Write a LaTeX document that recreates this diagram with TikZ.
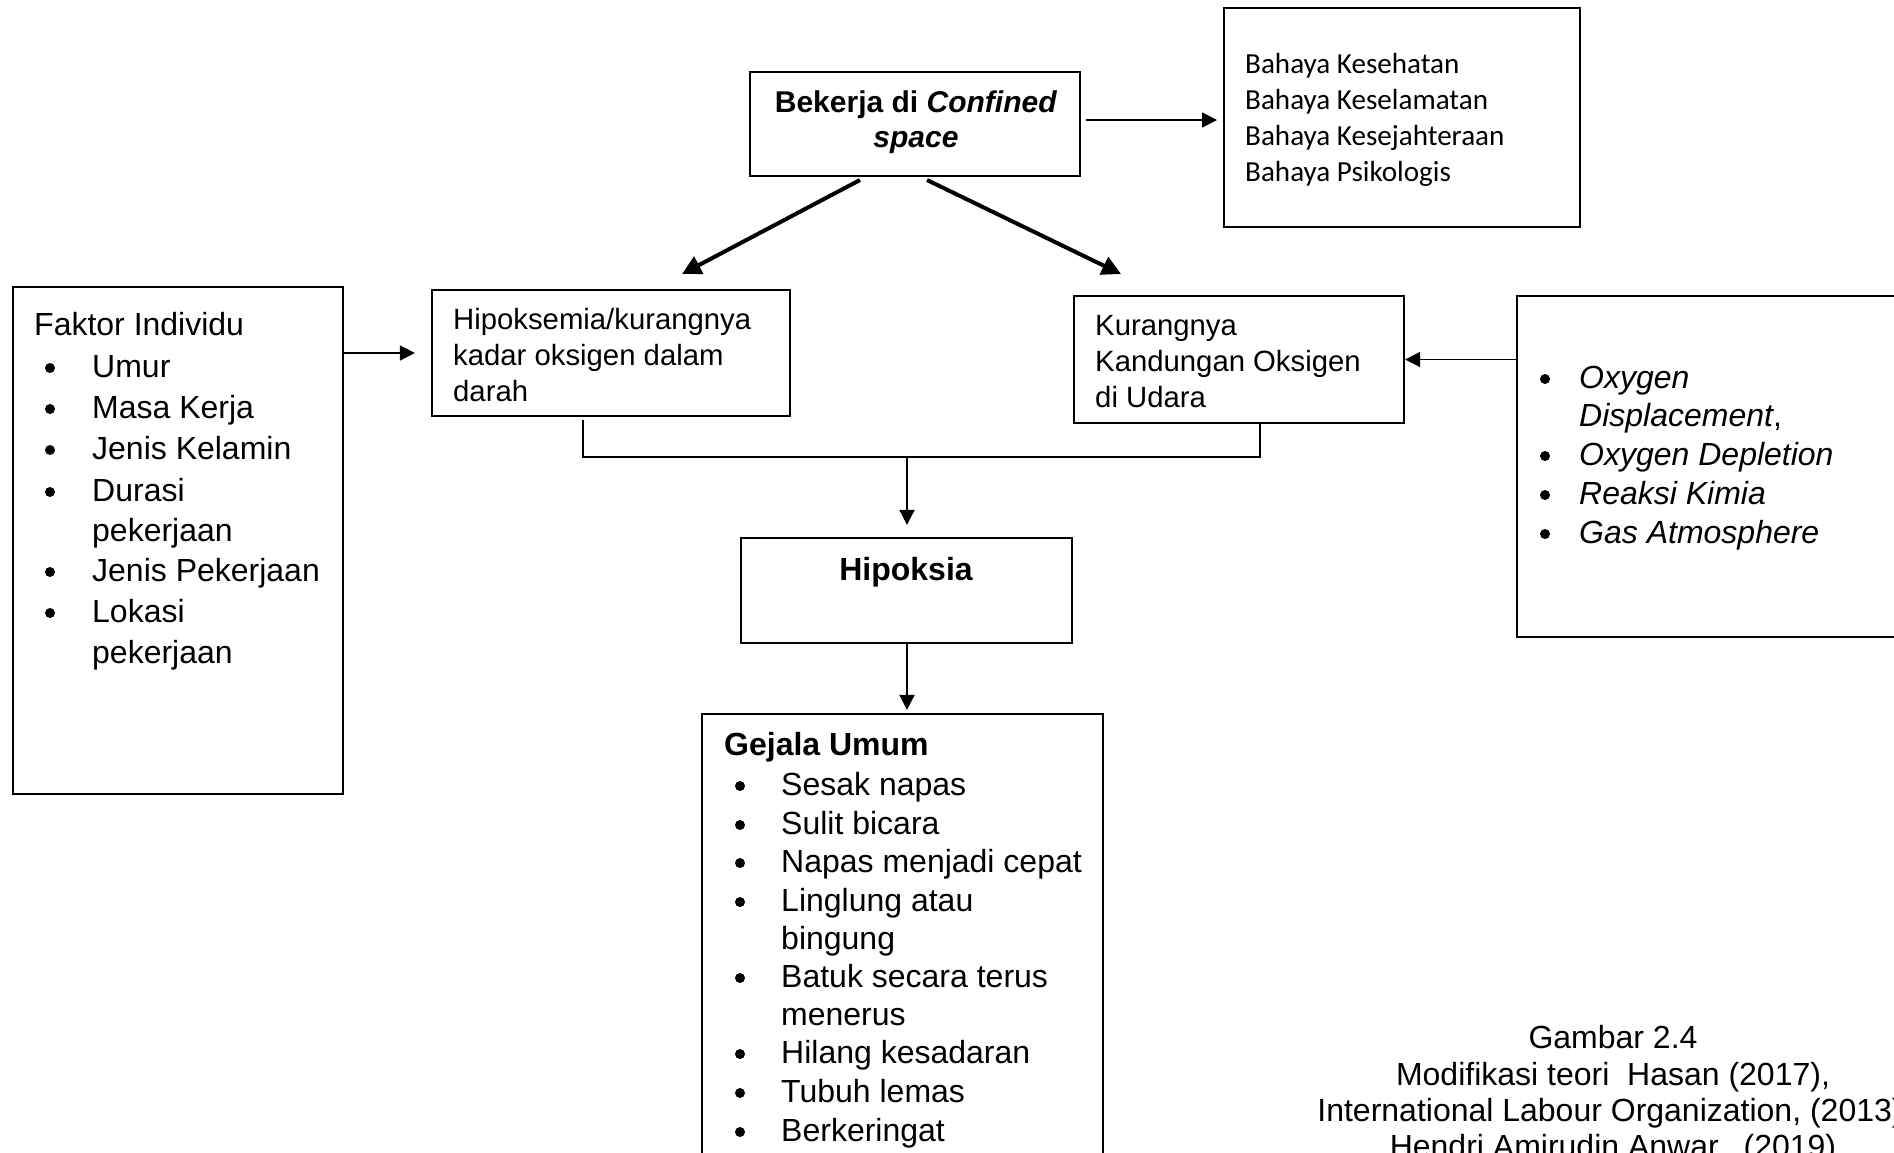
\documentclass[tikz,border=0pt]{standalone}
\usepackage{fontspec}
\setmainfont{Liberation Sans}
\newfontfamily\carlito{Carlito}
\usetikzlibrary{arrows.meta}
\tikzset{
  box/.style={draw, line width=2.2pt, inner sep=0pt, fill=none},
  txt/.style={anchor=base west, inner sep=0pt},
  ctxt/.style={anchor=base, inner sep=0pt},
  thin/.style={line width=1.6pt},
  arr/.style={line width=1.6pt, -{Triangle[length=15pt,width=15pt]}},
  bigarr/.style={line width=4pt, -{Triangle[length=19pt,width=19pt]}},
  big/.style={font=\fontsize{32}{38}\selectfont},
  mid/.style={font=\fontsize{29.3}{36}\selectfont},
  blt/.style={fill=black},
}
\begin{document}
\begin{tikzpicture}[x=1pt,y=-1pt]
\useasboundingbox (0,0) rectangle (1894,1152);
\fill[white] (0,0) rectangle (1894,1152);
\clip (0,0) rectangle (1894,1152);

% boxes
\node[box, minimum width=330pt, minimum height=104pt] (bek) at (915,124) {};
\node[box, minimum width=356pt, minimum height=219pt] (bah) at (1402,117.5) {};
\node[box, minimum width=358pt, minimum height=126pt] (hpx) at (611,353) {};
\node[box, minimum width=330pt, minimum height=127pt] (kur) at (1239,359.5) {};
\node[box, minimum width=330pt, minimum height=507pt] (fak) at (178,540.5) {};
\node[box, minimum width=393pt, minimum height=341pt] (oxy) at (1713.5,466.5) {};
\node[box, minimum width=331pt, minimum height=105pt] (hip) at (906.5,590.5) {};
\node[box, minimum width=401pt, minimum height=456pt] (gej) at (902.5,942) {};

% Bekerja text
\node[ctxt, font=\fontsize{30}{35}\selectfont\bfseries] (bek1) at (916,112) {Bekerja di \textit{Confined}};
\node[ctxt, font=\fontsize{30}{35}\selectfont\bfseries\itshape] (bek2) at (916,147) {space};

% Bahaya text
\begin{scope}[font=\carlito\fontsize{29.1}{36}\selectfont]
\node[txt] (bh1) at (1245,73) {Bahaya Kesehatan};
\node[txt] (bh2) at (1245,109) {Bahaya Keselamatan};
\node[txt] (bh3) at (1245,145) {Bahaya Kesejahteraan};
\node[txt] (bh4) at (1245,181) {Bahaya Psikologis};
\end{scope}

% Hipoksemia and Kurangnya text
\node[txt, mid] (hp1) at (453,329) {Hipoksemia/kurangnya};
\node[txt, mid] (hp2) at (453,365) {kadar oksigen dalam};
\node[txt, mid] (hp3) at (453,401) {darah};
\node[txt, mid] (ku1) at (1095,335) {Kurangnya};
\node[txt, mid] (ku2) at (1095,371) {Kandungan Oksigen};
\node[txt, mid] (ku3) at (1095,407) {di Udara};

% Faktor Individu
\node[txt, big] (fk0) at (34,335) {Faktor Individu};
\node[txt, big] (fk1) at (92,377) {Umur};
\node[txt, big] (fk2) at (92,418) {Masa Kerja};
\node[txt, big] (fk3) at (92,459) {Jenis Kelamin};
\node[txt, big] (fk4) at (92,501) {Durasi};
\node[txt, big] (fk4b) at (92,541) {pekerjaan};
\node[txt, big] (fk5) at (92,581) {Jenis Pekerjaan};
\node[txt, big] (fk6) at (92,622) {Lokasi};
\node[txt, big] (fk6b) at (92,663) {pekerjaan};
\foreach \y in {377,418,459,501,581,622} \fill[blt] (50,\y-9) circle (5pt);

% Oxygen box
\node[txt, font=\fontsize{32}{38}\selectfont\itshape] (ox1) at (1579,388) {Oxygen};
\node[txt, big] (ox2) at (1579,426) {\textit{Displacement},};
\node[txt, font=\fontsize{32}{38}\selectfont\itshape] (ox3) at (1579,465) {Oxygen Depletion};
\node[txt, font=\fontsize{32}{38}\selectfont\itshape] (ox4) at (1579,504) {Reaksi Kimia};
\node[txt, font=\fontsize{32}{38}\selectfont\itshape] (ox5) at (1579,543) {Gas Atmosphere};
\foreach \y in {388,465,504,543} \fill[blt] (1545,\y-9) circle (5pt);

% Hipoksia
\node[ctxt, font=\fontsize{32}{38}\selectfont\bfseries] (hipt) at (906,580) {Hipoksia};

% Gejala Umum
\node[txt, font=\fontsize{32}{38}\selectfont\bfseries] (gj0) at (724,755) {Gejala Umum};
\node[txt, big] (gj1) at (781,795) {Sesak napas};
\node[txt, big] (gj2) at (781,834) {Sulit bicara};
\node[txt, big] (gj3) at (781,872) {Napas menjadi cepat};
\node[txt, big] (gj4) at (781,911) {Linglung atau};
\node[txt, big] (gj4b) at (781,949) {bingung};
\node[txt, big] (gj5) at (781,987) {Batuk secara terus};
\node[txt, big] (gj5b) at (781,1025) {menerus};
\node[txt, big] (gj6) at (781,1063) {Hilang kesadaran};
\node[txt, big] (gj7) at (781,1102) {Tubuh lemas};
\node[txt, big] (gj8) at (781,1141) {Berkeringat};
\foreach \y in {795,834,872,911,987,1063,1102,1141} \fill[blt] (740,\y-9) circle (5pt);

% Caption
\node[ctxt, big] (cap1) at (1613,1048) {Gambar 2.4};
\node[ctxt, big] (cap2) at (1613,1085) {Modifikasi teori\ \ Hasan (2017),};
\node[ctxt, big] (cap3) at (1610,1121) {International Labour Organization, (2013)};
\node[ctxt, big] (cap4) at (1613,1157) {Hendri Amirudin Anwar,\ \ (2019)};

% connectors
\coordinate (bekR) at (1086,120);
\coordinate (bahL) at (1217,120);
\draw[arr] (bekR) -- (bahL);

\coordinate (bekL1) at (860,180);
\coordinate (hpxT) at (682,274);
\coordinate (bekL2) at (927,180);
\coordinate (kurT) at (1121,274);
\draw[bigarr] (bekL1) -- (hpxT);
\draw[bigarr] (bekL2) -- (kurT);

\draw[arr] (fak.east |- hpx.west) -- ([xshift=-16pt]hpx.west);
\draw[arr] (oxy.west |- kur.east) -- (kur.east);

\coordinate (jL) at (583,457);
\coordinate (jR) at (1260,457);
\coordinate (jM) at (907,457);
\draw[thin] ([yshift=-3pt]hpx.south -| jL) -- (jL) -- (jR) -- (kur.south -| jR);
\draw[arr] (jM) -- ([yshift=12pt]hip.north -| jM);
\draw[arr] (hip.south -| jM) -- ([yshift=3pt]gej.north -| jM);
\end{tikzpicture}
\end{document}
